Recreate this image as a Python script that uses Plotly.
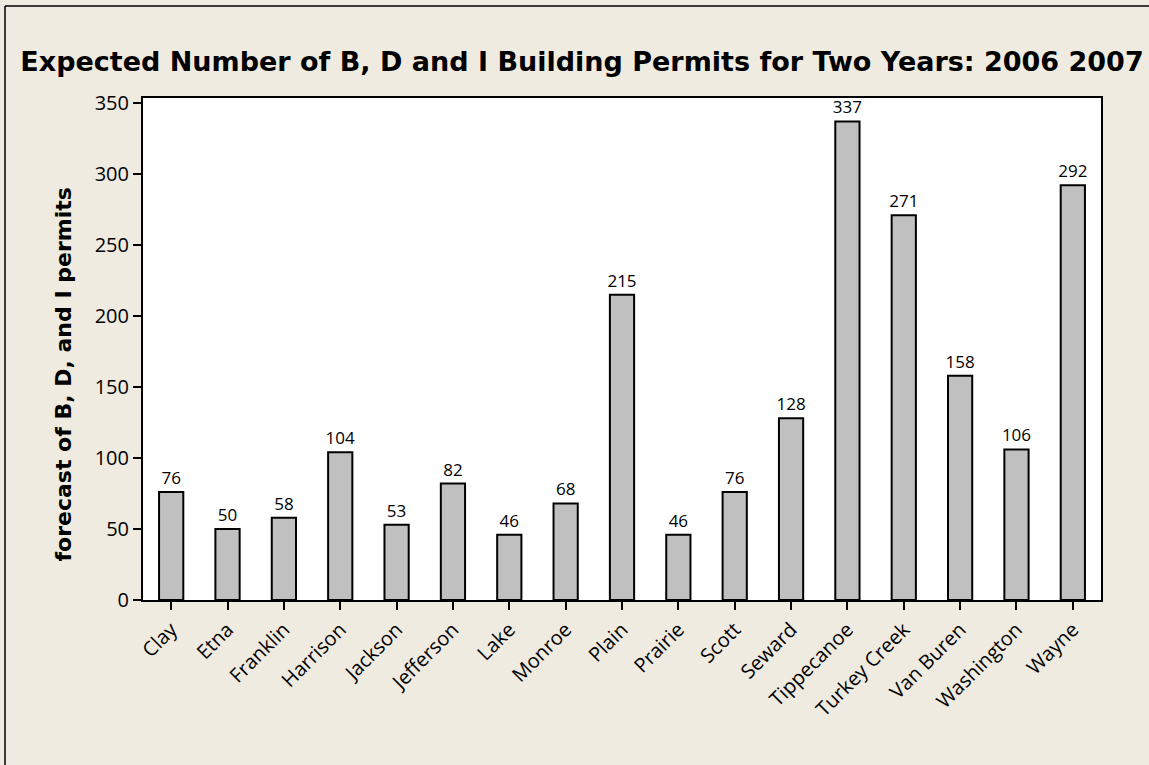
import plotly.graph_objects as go

# townships and forecast values
townships = ["Clay", "Etna", "Franklin", "Harrison", "Jackson", "Jefferson", "Lake",
             "Monroe", "Plain", "Prairie", "Scott", "Seward", "Tippecanoe",
             "Turkey Creek", "Van Buren", "Washington", "Wayne"]
permits = [76, 50, 58, 104, 53, 82, 46, 68, 215, 46, 76, 128, 337, 271, 158, 106, 292]

W, H = 1149, 765
ML, MR, MT, MB = 143, 48, 98, 165
pw = W - ML - MR
ph = H - MT - MB

FONT = "Open Sans"
BOLD = "DejaVu Sans"
BG = "#EFEBE1"

fig = go.Figure()
fig.add_trace(go.Bar(
    x=townships, y=permits,
    width=0.43,
    marker=dict(color="#C0C0C0", line=dict(color="black", width=2)),
    text=[str(v) for v in permits],
    textposition="outside",
    constraintext="none",
    textfont=dict(family=FONT, size=17, color="black"),
    cliponaxis=False,
))

# outer frame (only top and left edges show in the picture)
fig.add_shape(type="line", xref="paper", yref="paper",
              x0=(5 - ML) / pw, x1=(W + 5 - ML) / pw,
              y0=(H - 6 - MB) / ph, y1=(H - 6 - MB) / ph,
              line=dict(color="black", width=1.5))
fig.add_shape(type="line", xref="paper", yref="paper",
              x0=(5 - ML) / pw, x1=(5 - ML) / pw,
              y0=(H - 6 - MB) / ph, y1=-MB / ph - 0.05,
              line=dict(color="black", width=1.5))

# y axis title sits a bit lower than the plot centre in the original
fig.add_annotation(text="<b>forecast of B, D, and I permits</b>",
                   xref="paper", yref="paper",
                   x=(48 - ML) / pw, y=(H - 375 - MB) / ph,
                   textangle=-90, showarrow=False,
                   font=dict(family=BOLD, size=22, color="black"))

fig.update_layout(
    width=W, height=H,
    margin=dict(l=ML, r=MR, t=MT, b=MB),
    paper_bgcolor=BG, plot_bgcolor="white",
    showlegend=False,
    font=dict(family=FONT, color="black"),
    title=dict(text="<b>Expected Number of B, D and I Building Permits for Two Years: 2006 2007</b>",
               x=582 / W, xref="container", y=1 - 62 / H, yanchor="middle",
               font=dict(family=BOLD, size=27, color="black")),
)
fig.update_xaxes(
    tickangle=-45, tickfont=dict(family=FONT, size=20),
    ticks="outside", ticklen=8, tickwidth=2, tickcolor="black",
    showline=True, linecolor="black", linewidth=2, mirror=True,
    showgrid=False,
)
fig.update_yaxes(
    range=[0, 353.5], tickvals=[0, 50, 100, 150, 200, 250, 300, 350],
    tickfont=dict(family=FONT, size=20),
    ticks="outside", ticklen=8, tickwidth=2, tickcolor="black",
    showline=True, linecolor="black", linewidth=2, mirror=True,
    showgrid=False, zeroline=False,
)

fig.write_html("out.html", config={"displayModeBar": False},
               post_script="document.body.style.margin='0';")
